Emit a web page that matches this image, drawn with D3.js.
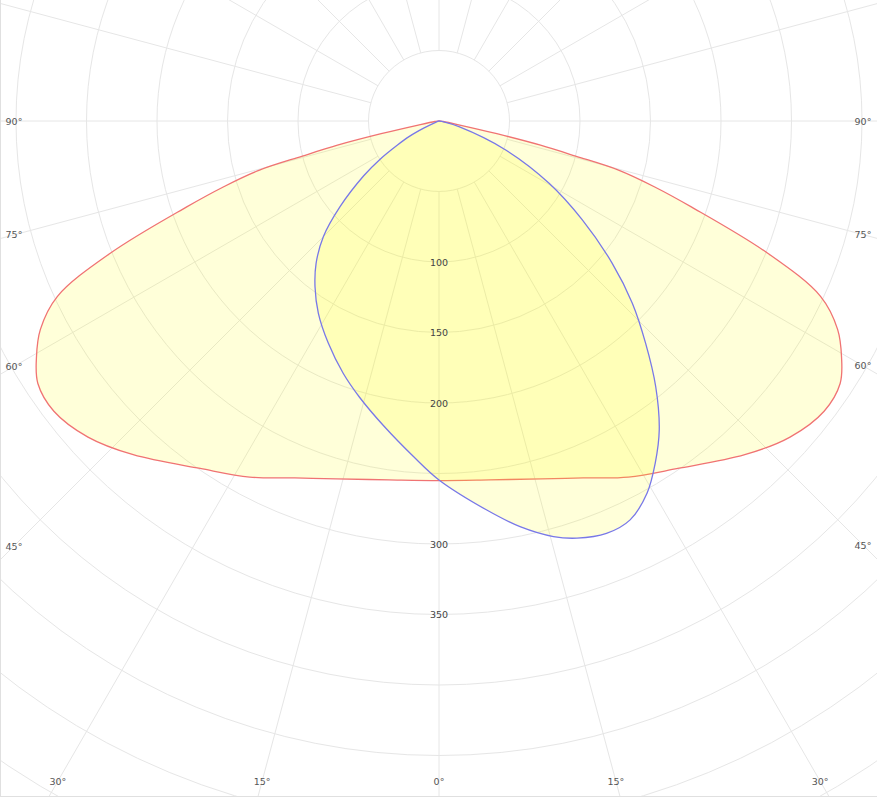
<!DOCTYPE html>
<html>
<head>
<meta charset="utf-8">
<script src="https://cdn.jsdelivr.net/npm/d3@7"></script>
<style>
  html, body { margin: 0; padding: 0; background: #ffffff; }
  svg { display: block; }
</style>
</head>
<body>
<svg id="chart" width="877" height="797"></svg>
<script>
// ---- data (candela values, angle measured from nadir, + = right side) ----
// C0-C180 plane (symmetric, read from one half)
const redAngles  = [0, 8, 16, 22, 28, 34.5, 42.5, 48, 53, 56.8, 59.6, 62.4, 65.3, 68.1, 71.2, 73, 74.7, 75.6, 76.6, 77.6, 79, 83, 90];
const redValues  = [255, 257, 264, 273, 286, 299, 321, 335, 342, 340, 331, 319, 298, 251, 189, 160, 132, 100, 74, 42, 15, 3, 0];

// C90-C270 plane (asymmetric)
const blueAngles = [-90, -75, -68, -65, -62.5, -60, -57, -54, -49.1, -45, -40.8, -36.8, -32.1, -26.5, -20.8, -16, -10.2, -4.4,
                    0, 7, 11.3, 15.4, 18.3, 22.1, 25.6, 29.2, 32.3, 35.5, 39.2, 42.9, 46.7, 50.6, 55.4, 60.5, 66.5, 74, 80, 90];
const blueValues = [0, 0.5, 3, 12, 24, 34, 50, 66, 93, 116, 133.4, 146.8, 161, 176, 191.4, 204, 220, 238.5,
                    254.6, 278, 293.4, 305.7, 311.6, 315.7, 313.7, 302.4, 287, 269, 243.2, 215.3, 188.4, 159, 123.5, 89.7, 51.6, 14.7, 2, 0];

const ringValues  = [50, 100, 150, 200, 250, 300, 350, 400, 450, 500, 550, 600];
const ringLabels  = [100, 150, 200, 300, 350];
const spokeAngles = [0, 15, 30, 45, 60, 75, 90, 105, 120, 135, 150, 165, 180, 195, 210, 225, 240, 255, 270, 285, 300, 315, 330, 345];
const angleLabels = [-90, -75, -60, -45, -30, -15, 0, 15, 30, 45, 60, 75, 90];

// ---- layout ----
const W = 877, H = 797, cx = 439, cy = 121;
const svg = d3.select("#chart");
const r = d3.scaleLinear().domain([0, 50]).range([0, 70.5]);
const toRad = d => d * Math.PI / 180;
// photometric angle (from nadir, + right) -> d3 radial angle (from top, clockwise)
const ang = t => Math.PI - toRad(t);

const g = svg.append("g").attr("transform", `translate(${cx},${cy})`);

// grid
const grid = g.append("g").attr("fill", "none").attr("stroke", "#e6e6e6").attr("stroke-width", 1);
grid.selectAll("circle").data(ringValues).join("circle").attr("r", d => r(d));
grid.selectAll("line").data(spokeAngles).join("line")
  .attr("x1", d => r(50) * Math.sin(toRad(d)))
  .attr("y1", d => r(50) * Math.cos(toRad(d)))
  .attr("x2", d => r(900) * Math.sin(toRad(d)))
  .attr("y2", d => r(900) * Math.cos(toRad(d)));

// border lines (left & bottom)
svg.append("line").attr("x1", 0.5).attr("y1", 0).attr("x2", 0.5).attr("y2", H).attr("stroke", "#e0e0e0");
svg.append("line").attr("x1", 0).attr("y1", H - 0.5).attr("x2", W).attr("y2", H - 0.5).attr("stroke", "#e0e0e0");

// curves
const line = d3.lineRadial()
  .angle(d => ang(d.t))
  .radius(d => r(d.v))
  .curve(d3.curveCatmullRomClosed.alpha(0.5));

const redPts = [];
for (let i = redAngles.length - 2; i >= 1; i--) redPts.push({ t: -redAngles[i], v: redValues[i] });
for (let i = 0; i < redAngles.length; i++) redPts.push({ t: redAngles[i], v: redValues[i] });
const bluePts = blueAngles.slice(1).map((t, i) => ({ t, v: blueValues[i + 1] }));

g.append("path").datum(redPts).attr("d", line)
  .attr("fill", "#ffff00").attr("fill-opacity", 0.15)
  .attr("stroke", "#f07373").attr("stroke-width", 1.3).attr("stroke-linejoin", "round");
g.append("path").datum(bluePts).attr("d", line)
  .attr("fill", "#ffff00").attr("fill-opacity", 0.15)
  .attr("stroke", "#7878e8").attr("stroke-width", 1.3).attr("stroke-linejoin", "round");

// radial value labels along nadir
g.selectAll("text.rv").data(ringLabels).join("text")
  .attr("class", "rv")
  .attr("x", 0).attr("y", d => r(d))
  .attr("text-anchor", "middle").attr("dominant-baseline", "central")
  .attr("font-family", "DejaVu Sans, Verdana, sans-serif").attr("font-size", 9.5)
  .attr("fill", "#444").text(d => d);

// angle labels at frame edges
const inset = { left: 14, right: W - 14, bottom: H - 16 };
function labelPos(t) {
  const s = Math.sin(toRad(t)), c = Math.cos(toRad(t));
  let tb = c > 1e-6 ? (inset.bottom - cy) / c : Infinity;
  let ts = Math.abs(s) > 1e-6 ? (s > 0 ? (inset.right - cx) / s : (cx - inset.left) / -s) : Infinity;
  const k = Math.min(tb, ts);
  return [cx + k * s, cy + k * c];
}
svg.selectAll("text.al").data(angleLabels).join("text")
  .attr("class", "al")
  .attr("x", d => labelPos(d)[0]).attr("y", d => labelPos(d)[1])
  .attr("text-anchor", "middle").attr("dominant-baseline", "central")
  .attr("font-family", "DejaVu Sans, Verdana, sans-serif").attr("font-size", 9.5)
  .attr("fill", "#555").text(d => Math.abs(d) + "°");
</script>
</body>
</html>
